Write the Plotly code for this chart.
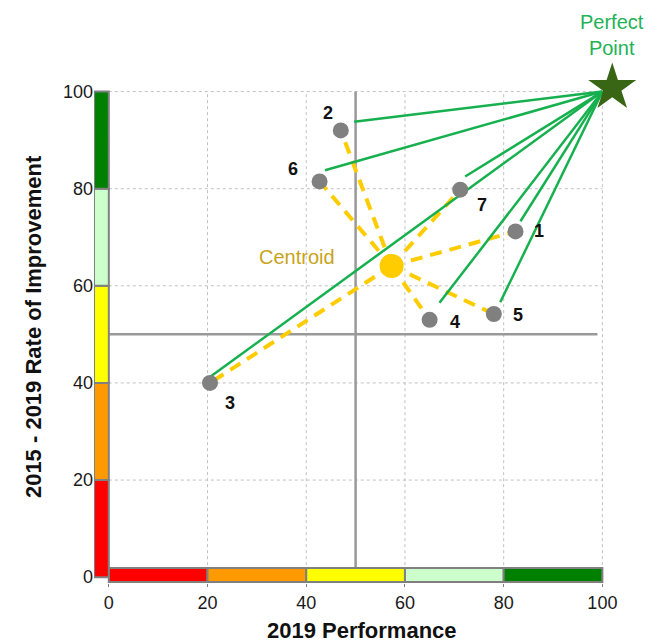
import plotly.graph_objects as go

# point data
point_ids = ["1", "2", "3", "4", "5", "6", "7"]
perf_2019 = [82.4, 47.0, 20.5, 65.0, 78.0, 42.7, 71.2]
improve_rate = [71.2, 92.0, 40.0, 53.0, 54.2, 81.5, 79.8]

# green "distance" lines stop a little short of each point
line_end_x = [83.4, 49.7, 20.2, 67.0, 79.3, 43.8, 72.2]
line_end_y = [73.3, 93.8, 41.0, 56.5, 56.6, 83.8, 82.5]

centroid_x = [57.3]
centroid_y = [64.1]

perfect_x = [100]
perfect_y = [100]
star_x = [102.0]
star_y = [100.8]

band_edges = [0, 20, 40, 60, 80, 100]
band_colors = ["#ff0000", "#ff9900", "#ffff00", "#ccffcc", "#008000"]
ref_level = 50

# label offsets in pixels (dx, dy)
label_offsets = {
    "1": (23, 0), "2": (-13, 17), "3": (20, -20), "4": (25, -2),
    "5": (24, -1), "6": (-27, 12), "7": (22, -15),
}

FONT = "Arial, Liberation Sans, sans-serif"
fig = go.Figure()

# dotted grid, only over the 0-100 square
for v in band_edges:
    fig.add_shape(type="line", x0=v, x1=v, y0=0, y1=100, layer="below",
                  line=dict(color="#c0c0c0", width=1, dash="dot"))
    fig.add_shape(type="line", x0=0, x1=100, y0=v, y1=v, layer="below",
                  line=dict(color="#c0c0c0", width=1, dash="dot"))

# reference lines at 50
fig.add_shape(type="line", x0=0, x1=99, y0=ref_level, y1=ref_level,
              line=dict(color="#999999", width=2.5), layer="below")
fig.add_shape(type="line", x0=ref_level, x1=ref_level, y0=2, y1=100,
              line=dict(color="#999999", width=2.5), layer="below")

# yellow dashed spokes from the centroid
sx, sy = [], []
for px_, py_ in zip(perf_2019, improve_rate):
    sx += [centroid_x[0], px_, None]
    sy += [centroid_y[0], py_, None]
fig.add_trace(go.Scatter(x=sx, y=sy, mode="lines", hoverinfo="skip",
                         line=dict(color="#ffcc00", width=4, dash="12px,8px")))

fig.add_trace(go.Scatter(x=centroid_x, y=centroid_y, mode="markers", hoverinfo="skip",
                         marker=dict(size=24, color="#ffcc00")))

# green lines to the perfect point
gx, gy = [], []
for ex, ey in zip(line_end_x, line_end_y):
    gx += [perfect_x[0], ex, None]
    gy += [perfect_y[0], ey, None]
fig.add_trace(go.Scatter(x=gx, y=gy, mode="lines", hoverinfo="skip",
                         line=dict(color="#17b04f", width=2.5)))

fig.add_trace(go.Scatter(x=perf_2019, y=improve_rate, mode="markers", text=point_ids,
                         marker=dict(size=16, color="#808080")))

fig.add_trace(go.Scatter(x=star_x, y=star_y, mode="markers", hoverinfo="skip", cliponaxis=False,
                         marker=dict(symbol="star", size=36, color="#386614")))

# coloured scale bands along both axes
for i, c in enumerate(band_colors):
    fig.add_shape(type="rect", x0=band_edges[i], x1=band_edges[i + 1], y0=-1.0, y1=1.9,
                  fillcolor=c, line=dict(color="#808080", width=2))
    fig.add_shape(type="rect", x0=-3, x1=0, y0=band_edges[i], y1=band_edges[i + 1],
                  fillcolor=c, line=dict(color="#808080", width=2))

annotations = []
for pid, px_, py_ in zip(point_ids, perf_2019, improve_rate):
    dx, dy = label_offsets[pid]
    annotations.append(dict(x=px_, y=py_, text=f"<b>{pid}</b>", showarrow=False,
                            xshift=dx, yshift=dy, font=dict(size=18, color="#111111")))
annotations.append(dict(x=38.2, y=66.0, text="Centroid", showarrow=False,
                        font=dict(size=20, color="#c9a420")))
annotations.append(dict(x=0.9628, xref="paper", y=1.0829, yref="paper", text="Perfect<br>Point",
                        xanchor="center", yanchor="middle",
                        showarrow=False, font=dict(size=20, color="#21b355")))
annotations.append(dict(x=51.3, xref="x", y=0, yref="paper", yanchor="top", yshift=-33,
                        text="<b>2019 Performance</b>", showarrow=False,
                        font=dict(size=22, color="#111111")))
annotations.append(dict(x=0, xref="paper", xanchor="center", xshift=-61, y=51.5, yref="y",
                        text="<b>2015 - 2019 Rate of Improvement</b>", textangle=-90,
                        showarrow=False, font=dict(size=22, color="#111111")))

# page body adds an 8px offset, margins compensate for it
fig.update_layout(
    width=654, height=643,
    margin=dict(l=86, r=30, t=69, b=68),
    paper_bgcolor="white", plot_bgcolor="white",
    showlegend=False,
    font=dict(family=FONT, size=18, color="#1a1a1a"),
    annotations=annotations,
)
axis_style = dict(showgrid=False, zeroline=False, showline=False, tickvals=band_edges,
                  tickfont=dict(size=18, color="#1a1a1a"))
fig.update_xaxes(range=[-3, 106], ticks="outside", ticklen=3, tickcolor="#808080", **axis_style)
fig.update_yaxes(range=[-1.2, 103], ticks="", **axis_style)

fig.write_html("out.html")
